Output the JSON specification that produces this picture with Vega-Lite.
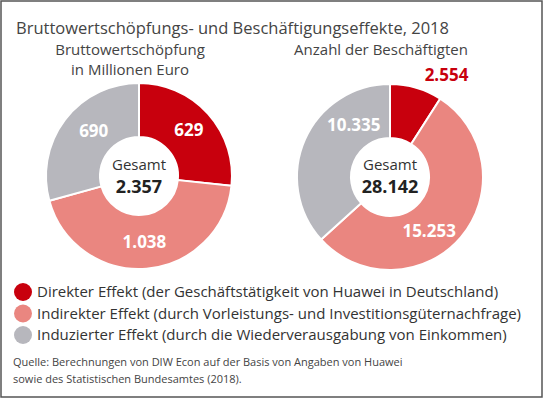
{
  "$schema": "https://vega.github.io/schema/vega-lite/v6.json",
  "width": 546,
  "height": 400,
  "autosize": {"type": "fit", "contains": "padding"},
  "padding": {"left": 1, "top": 1, "right": 4, "bottom": 3},
  "background": "white",
  "config": {
    "view": {"stroke": "#555555", "strokeWidth": 1.5},
    "font": "Open Sans",
    "text": {"font": "Open Sans"},
    "locale": {"number": {"decimal": ",", "thousands": ".", "grouping": [3], "currency": ["", " €"]}}
  },
  "datasets": {
    "effekte": [
      {"chart": "Bruttowertschöpfung", "effect": "Direkter Effekt (der Geschäftstätigkeit von Huawei in Deutschland)", "value": 629},
      {"chart": "Bruttowertschöpfung", "effect": "Indirekter Effekt (durch Vorleistungs- und Investitionsgüternachfrage)", "value": 1038},
      {"chart": "Bruttowertschöpfung", "effect": "Induzierter Effekt (durch die Wiederverausgabung von Einkommen)", "value": 690},
      {"chart": "Beschäftigte", "effect": "Direkter Effekt (der Geschäftstätigkeit von Huawei in Deutschland)", "value": 2554},
      {"chart": "Beschäftigte", "effect": "Indirekter Effekt (durch Vorleistungs- und Investitionsgüternachfrage)", "value": 15253},
      {"chart": "Beschäftigte", "effect": "Induzierter Effekt (durch die Wiederverausgabung von Einkommen)", "value": 10335}
    ],
    "untertitel": [
      {"chart": "Bruttowertschöpfung", "label": "Bruttowertschöpfung\nin Millionen Euro"},
      {"chart": "Beschäftigte", "label": "Anzahl der Beschäftigten"}
    ]
  },
  "layer": [
    {
      "data": {"values": [{"t": "Bruttowertschöpfungs- und Beschäftigungseffekte, 2018"}]},
      "mark": {"type": "text", "align": "left", "baseline": "alphabetic", "fontSize": 16.5, "color": "#444444"},
      "encoding": {"text": {"field": "t"}, "x": {"value": 15}, "y": {"value": 33}}
    },
    {
      "data": {"name": "untertitel"},
      "mark": {"type": "text", "align": "center", "baseline": "alphabetic", "fontSize": 15, "color": "#444444", "lineBreak": "\n", "lineHeight": 20, "dx": -9},
      "encoding": {
        "text": {"field": "label"},
        "x": {"field": "chart", "type": "nominal", "axis": null, "scale": {"domain": ["Bruttowertschöpfung", "Beschäftigte"], "range": [138, 389], "padding": 0}},
        "y": {"value": 54}
      }
    },
    {
      "data": {"name": "effekte"},
      "transform": [{"filter": "datum.chart === 'Bruttowertschöpfung'"}],
      "layer": [
        {
          "mark": {"type": "arc", "outerRadius": 93, "innerRadius": 39, "stroke": "white", "strokeWidth": 2},
          "encoding": {
            "x": {"field": "chart", "type": "nominal"},
            "y": {"value": 175},
            "theta": {"field": "value", "type": "quantitative", "stack": "normalize"},
            "order": {"field": "effect", "sort": "ascending"},
            "color": {
              "field": "effect", "type": "nominal",
              "scale": {
                "domain": ["Direkter Effekt (der Geschäftstätigkeit von Huawei in Deutschland)", "Indirekter Effekt (durch Vorleistungs- und Investitionsgüternachfrage)", "Induzierter Effekt (durch die Wiederverausgabung von Einkommen)"],
                "range": ["#c8000d", "#ea8680", "#b7b7bd"]
              },
              "legend": {
                "orient": "none", "legendX": 13, "legendY": 282, "title": null, "padding": 0,
                "symbolType": "circle", "symbolSize": 324, "symbolStrokeWidth": 0, "symbolOpacity": 1,
                "labelFontSize": 15, "labelFont": "Open Sans", "labelColor": "#333333", "labelLimit": 700,
                "labelOffset": 5, "rowPadding": 3.5
              }
            }
          }
        },
        {
          "mark": {"type": "text", "fontSize": 17, "fontWeight": "bold", "color": "white", "radius": 67},
          "encoding": {
            "x": {"field": "chart", "type": "nominal"},
            "y": {"value": 175},
            "theta": {"field": "value", "type": "quantitative", "stack": "normalize"},
            "order": {"field": "effect", "sort": "ascending"},
            "detail": {"field": "effect"},
            "text": {"field": "value", "type": "quantitative", "format": ",d", "condition": {"test": "datum.effect === 'Induzierter Effekt (durch die Wiederverausgabung von Einkommen)'", "value": ""}}
          }
        },
        {
          "mark": {"type": "text", "fontSize": 17, "fontWeight": "bold", "color": "white", "radius": 67, "dx": 8, "dy": -3},
          "encoding": {
            "x": {"field": "chart", "type": "nominal"},
            "y": {"value": 175},
            "theta": {"field": "value", "type": "quantitative", "stack": "normalize"},
            "order": {"field": "effect", "sort": "ascending"},
            "detail": {"field": "effect"},
            "text": {"field": "value", "type": "quantitative", "format": ",d", "condition": {"test": "datum.effect !== 'Induzierter Effekt (durch die Wiederverausgabung von Einkommen)'", "value": ""}}
          }
        }
      ]
    },
    {
      "data": {"name": "effekte"},
      "transform": [{"filter": "datum.chart === 'Beschäftigte'"}],
      "layer": [
        {
          "mark": {"type": "arc", "outerRadius": 93, "innerRadius": 39, "stroke": "white", "strokeWidth": 2},
          "encoding": {
            "x": {"field": "chart", "type": "nominal"},
            "y": {"value": 176},
            "theta": {"field": "value", "type": "quantitative", "stack": "normalize"},
            "order": {"field": "effect", "sort": "ascending"},
            "color": {"field": "effect", "type": "nominal"}
          }
        },
        {
          "mark": {"type": "text", "fontSize": 17, "fontWeight": "bold", "color": "white", "radius": 67, "dx": -12, "dy": 12},
          "encoding": {
            "x": {"field": "chart", "type": "nominal"},
            "y": {"value": 176},
            "theta": {"field": "value", "type": "quantitative", "stack": "normalize"},
            "order": {"field": "effect", "sort": "ascending"},
            "detail": {"field": "effect"},
            "text": {"field": "value", "type": "quantitative", "format": ",d", "condition": {"test": "datum.effect !== 'Indirekter Effekt (durch Vorleistungs- und Investitionsgüternachfrage)'", "value": ""}}
          }
        },
        {
          "mark": {"type": "text", "fontSize": 17, "fontWeight": "bold", "color": "white", "radius": 67, "dx": 25, "dy": -24},
          "encoding": {
            "x": {"field": "chart", "type": "nominal"},
            "y": {"value": 176},
            "theta": {"field": "value", "type": "quantitative", "stack": "normalize"},
            "order": {"field": "effect", "sort": "ascending"},
            "detail": {"field": "effect"},
            "text": {"field": "value", "type": "quantitative", "format": ",d", "condition": {"test": "datum.effect !== 'Induzierter Effekt (durch die Wiederverausgabung von Einkommen)'", "value": ""}}
          }
        },
        {
          "mark": {"type": "text", "fontSize": 17, "fontWeight": "bold", "color": "#c8000d", "radius": 112, "dx": 25, "dy": 6},
          "encoding": {
            "x": {"field": "chart", "type": "nominal"},
            "y": {"value": 176},
            "theta": {"field": "value", "type": "quantitative", "stack": "normalize"},
            "order": {"field": "effect", "sort": "ascending"},
            "detail": {"field": "effect"},
            "text": {"field": "value", "type": "quantitative", "format": ",d", "condition": {"test": "datum.effect !== 'Direkter Effekt (der Geschäftstätigkeit von Huawei in Deutschland)'", "value": ""}}
          }
        }
      ]
    },
    {
      "data": {"name": "effekte"},
      "transform": [{"aggregate": [{"op": "sum", "field": "value", "as": "total"}], "groupby": ["chart"]}],
      "layer": [
        {
          "mark": {"type": "text", "fontSize": 15, "color": "#333333", "baseline": "alphabetic"},
          "encoding": {
            "x": {"field": "chart", "type": "nominal"},
            "y": {"value": 169},
            "text": {"value": "Gesamt"}
          }
        },
        {
          "mark": {"type": "text", "fontSize": 18, "fontWeight": "bold", "color": "#222222", "baseline": "alphabetic"},
          "encoding": {
            "x": {"field": "chart", "type": "nominal"},
            "y": {"value": 192},
            "text": {"field": "total", "type": "quantitative", "format": ",d"}
          }
        }
      ]
    },
    {
      "data": {"values": [{"t": "Quelle: Berechnungen von DIW Econ auf der Basis von Angaben von Huawei\nsowie des Statistischen Bundesamtes (2018)."}]},
      "mark": {"type": "text", "align": "left", "baseline": "alphabetic", "fontSize": 11, "color": "#444444", "lineBreak": "\n", "lineHeight": 17},
      "encoding": {"text": {"field": "t"}, "x": {"value": 12}, "y": {"value": 365}}
    }
  ]
}
